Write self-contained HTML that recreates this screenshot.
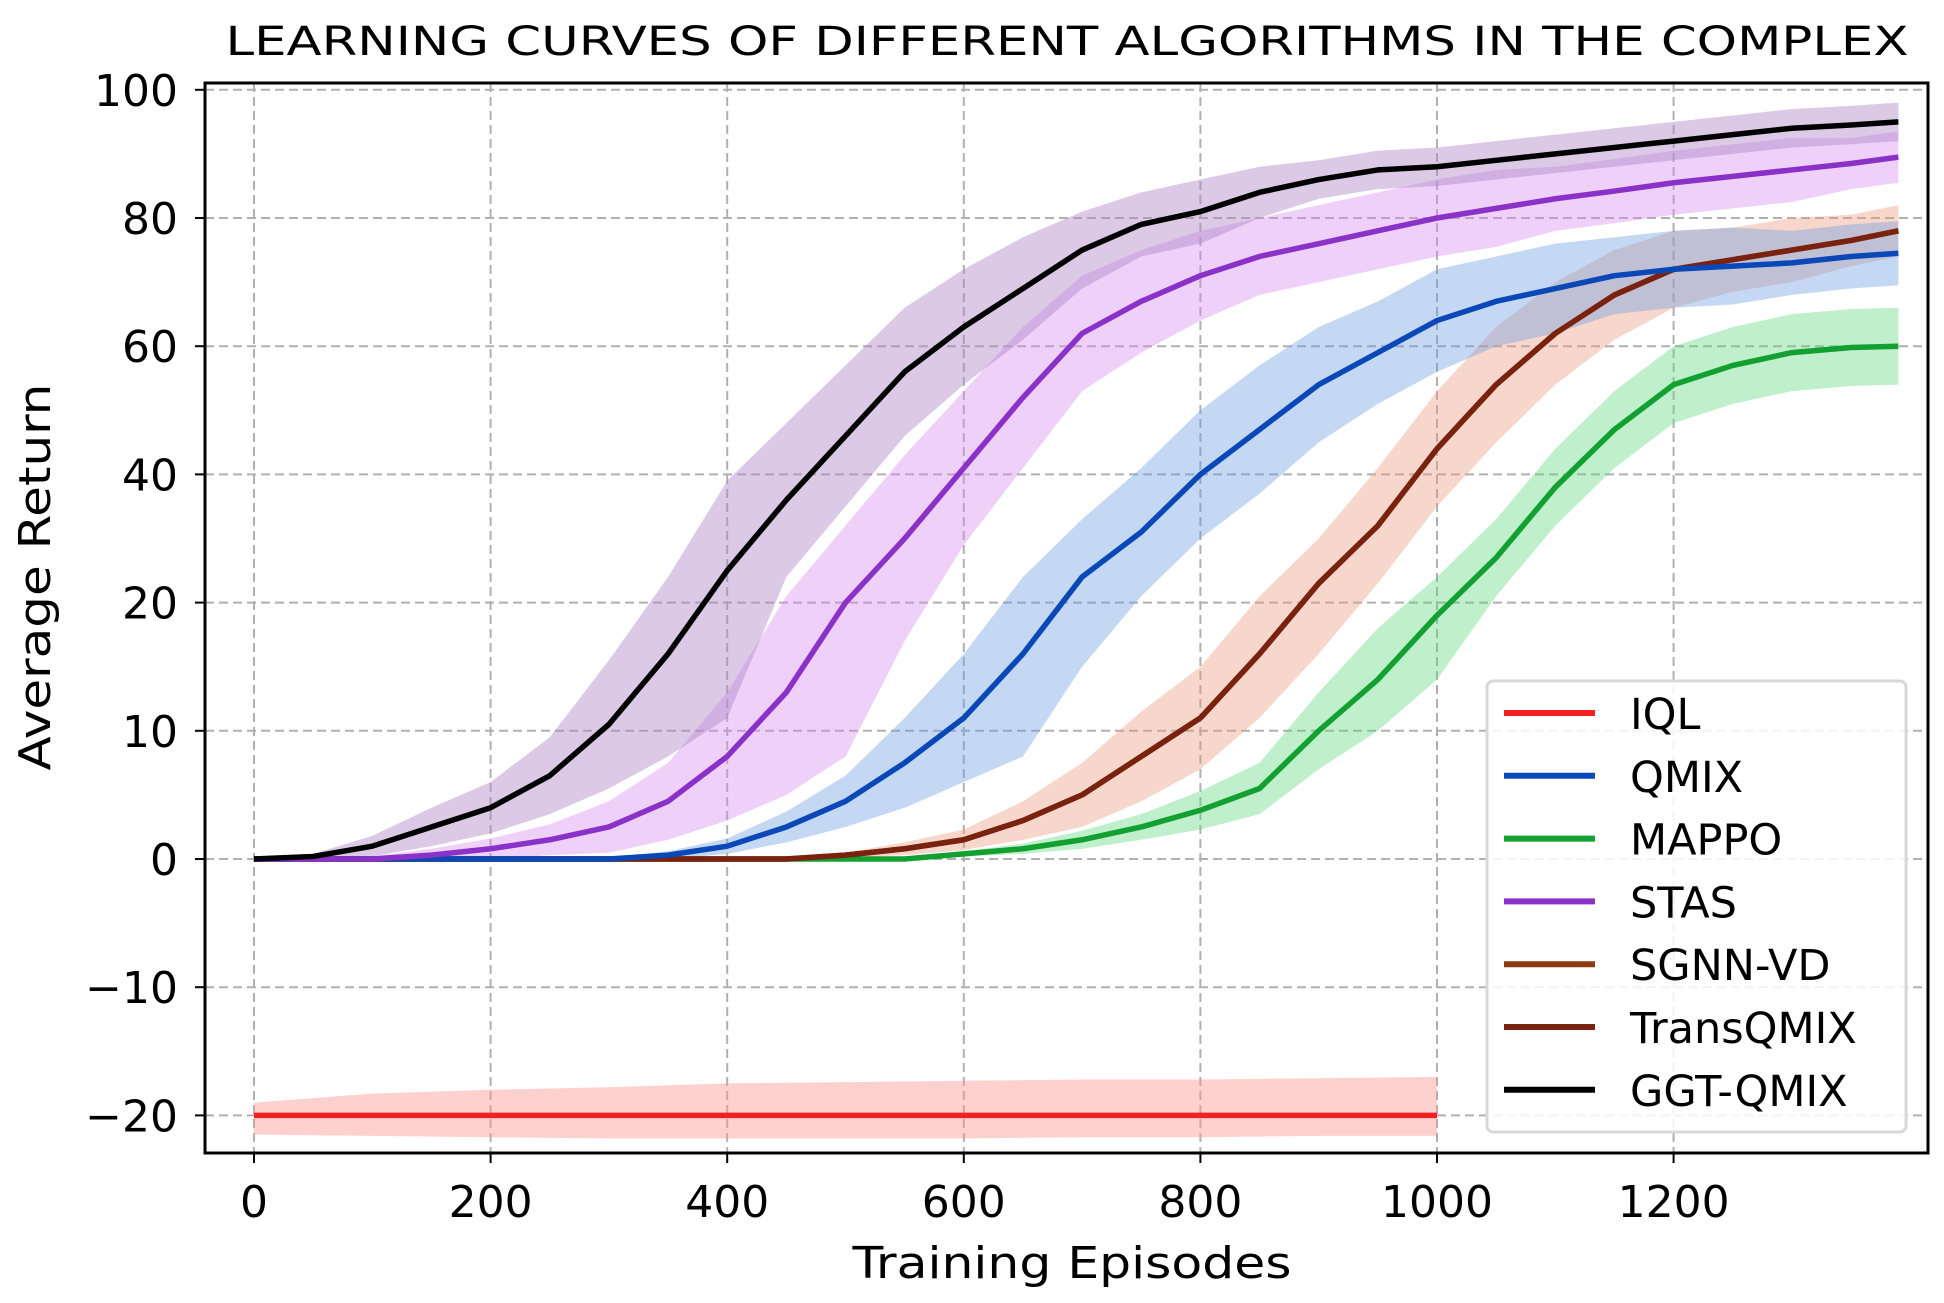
<!DOCTYPE html>
<html><head><meta charset="utf-8">
<style>
html,body{margin:0;padding:0;background:#fff;}
svg{display:block;font-family:"DejaVu Sans","Liberation Sans",sans-serif;}
</style></head>
<body>
<svg id="chart" width="1944" height="1303" viewBox="0 0 1944 1303" xmlns="http://www.w3.org/2000/svg">
<rect x="0" y="0" width="1944" height="1303" fill="#fff"/>
<text x="1067" y="55" text-anchor="middle" font-size="40" textLength="1683" lengthAdjust="spacingAndGlyphs">LEARNING CURVES OF DIFFERENT ALGORITHMS IN THE COMPLEX</text>
<g id="grid"></g>
<g id="bands"></g>
<g id="lines"></g>
<rect x="205" y="83" width="1723" height="1070" fill="none" stroke="#000" stroke-width="3"/>
<g id="ticks"></g>
<text x="1072" y="1278" text-anchor="middle" font-size="44" textLength="439" lengthAdjust="spacingAndGlyphs">Training Episodes</text>
<text transform="translate(50,577) rotate(-90)" text-anchor="middle" font-size="44" textLength="387" lengthAdjust="spacingAndGlyphs">Average Return</text>
<g id="legend"></g>
</svg>
<script>
const xs = [0,50,100,150,200,250,300,350,400,450,500,550,600,650,700,750,800,850,900,950,1000,1050,1100,1150,1200,1250,1300,1350,1390];
const ggt = [0,0.2,1,2.5,4,6.5,10.5,16,25,36,46,56,63,69,75,79,81,84,86,87.5,88,89,90,91,92,93,94,94.5,95];
const ggtSpread = [0,0.2,0.8,1.5,2,3,5,8,14,12,11,10,9,8,6,5,5,4,3,3,3,3,3,3,3,3,3,3,3];
const stas = [0,0,0,0.3,0.8,1.5,2.5,4.5,8,13,20,30,41,52,62,67,71,74,76,78,80,81.5,83,84.2,85.5,86.5,87.5,88.5,89.5];
const stasSpread = [0,0,0.2,0.5,0.8,1.2,2,3,5,8,12,13,12,11,9,8,7,6,6,6,6,6,5,5,5,5,5,4,4];
const qmix = [0,0,0,0,0,0,0,0.3,1,2.5,4.5,7.5,11,16,24,31,40,47,54,59,64,67,69,71,72,72.5,73,74,74.5];
const qmixSpread = [0,0,0,0,0,0,0.1,0.3,0.6,1.2,2,3.5,5,8,9,10,10,10,9,8,8,7,7,6,6,6,5,5,5];
const trans = [0,0,0,0,0,0,0,0,0,0,0.3,0.8,1.5,3,5,8,11,16,23,32,44,54,62,68,72,73.5,75,76.5,78];
const transSpread = [0,0,0,0,0,0,0,0,0,0,0.2,0.5,0.8,1.5,2.5,3.5,4,5,7,9,9,9,8,7,6,5,5,4,4];
const sgnn = [0,0,0,0,0,0,0,0,0,0,0.3,0.8,1.5,3,5,8,11,16,23,32,44,54,62,68,72,73.5,75,76.5,78];
const mappo = [0,0,0,0,0,0,0,0,0,0,0,0,0.4,0.8,1.5,2.5,3.8,5.5,10,14,19,27,38,47,54,57,59,59.8,60];
const mappoSpread = [0,0,0,0,0,0,0,0,0,0,0,0,0.2,0.4,0.7,1,1.5,2,3,4,5,6,6,6,6,6,6,6,6];
const iqlX = [0,100,200,300,400,500,600,700,800,900,1000];
const iql = [-20,-20,-20,-20,-20,-20,-20,-20,-20,-20,-20];
const iqlLo = [-21.5,-21.6,-21.7,-21.8,-21.8,-21.8,-21.8,-21.7,-21.7,-21.6,-21.6];
const iqlHi = [-19,-18.3,-18,-17.8,-17.5,-17.4,-17.3,-17.2,-17.2,-17.1,-17];
const xTicks = [0,200,400,600,800,1000,1200];
const yTicks = [100,80,60,40,20,10,0,-10,-20];
const yTickLabels = ["100","80","60","40","20","10","0","\u221210","\u221220"];
const legendNames = ["IQL","QMIX","MAPPO","STAS","SGNN-VD","TransQMIX","GGT-QMIX"];

const NS="http://www.w3.org/2000/svg";
const X0=254, XPER=1.183, Y0=859, T=128.2;
function xScale(v){return X0+v*XPER;}
function yScale(v){ if(v>=20) return Y0-2*T-(v-20)/20*T; return Y0-v/10*T; }
function mk(tag,attrs,parent){const e=document.createElementNS(NS,tag);for(const k in attrs)e.setAttribute(k,attrs[k]);parent.appendChild(e);return e;}

const grid=document.getElementById('grid');
xTicks.forEach(t=>{
  const l=mk('line',{x1:xScale(t),x2:xScale(t),y1:83,y2:1153,stroke:'#b0b0b0','stroke-width':2,'stroke-dasharray':'9,5'},grid);
  
  
});
yTicks.forEach(t=>{
  const l=mk('line',{x1:205,x2:1928,y1:yScale(t),y2:yScale(t),stroke:'#b0b0b0','stroke-width':2,'stroke-dasharray':'9,5'},grid);
  
  
});
const ticks=document.getElementById('ticks');
xTicks.forEach(t=>{
  mk('line',{x1:xScale(t),x2:xScale(t),y1:1153,y2:1163,stroke:'#000','stroke-width':2},ticks);
  const tx=mk('text',{x:xScale(t),y:1217,'text-anchor':'middle','font-size':44},ticks);
  tx.textContent=String(t);
  
  
});
yTicks.forEach((t,i)=>{
  mk('line',{x1:195,x2:205,y1:yScale(t),y2:yScale(t),stroke:'#000','stroke-width':2},ticks);
  const tx=mk('text',{x:178,y:yScale(t)+16,'text-anchor':'end','font-size':44},ticks);
  tx.textContent=yTickLabels[i];
  
  
});

const bands=document.getElementById('bands'), lines=document.getElementById('lines');
function band(xArr,lo,hi,fill,op,name){
  let d='M'+xArr.map((x,i)=>xScale(x)+','+yScale(hi[i])).join('L');
  d+='L'+xArr.slice().reverse().map((x,j)=>{const i=xArr.length-1-j;return xScale(x)+','+yScale(lo[i]);}).join('L')+'Z';
  const p=mk('path',{d:d,fill:fill,'fill-opacity':op,stroke:'none'},bands);
  
  
}
function line(xArr,vals,color,name){
  const pts=xArr.map((x,i)=>xScale(x)+','+yScale(vals[i])).join(' ');
  const p=mk('polyline',{points:pts,fill:'none',stroke:color,'stroke-width':5.5,'stroke-linejoin':'round'},lines);
  
  
}
function spreadBand(vals,sp,fill,op,name){
  band(xs,vals.map((v,i)=>v-sp[i]),vals.map((v,i)=>v+sp[i]),fill,op,name);
}
band(iqlX,iqlLo,iqlHi,'#ff9a92',0.45,'iql-band');
spreadBand(mappo,mappoSpread,'#5fd67e',0.4,'mappo-band');
spreadBand(trans,transSpread,'#ec9a7c',0.4,'transqmix-band');
spreadBand(qmix,qmixSpread,'#6f9ee0',0.4,'qmix-band');
spreadBand(stas,stasSpread,'#d88af0',0.4,'stas-band');
spreadBand(ggt,ggtSpread,'#b088c8',0.45,'ggt-qmix-band');
line(iqlX,iql,'#f22020','iql-line');
line(xs,mappo,'#12a030','mappo-line');
line(xs,sgnn,'#8b3a12','sgnn-vd-line');
line(xs,trans,'#7a2210','transqmix-line');
line(xs,qmix,'#0a48b8','qmix-line');
line(xs,stas,'#8a32c8','stas-line');
line(xs,ggt,'#000000','ggt-qmix-line');

const legend=document.getElementById('legend');
mk('rect',{x:1487,y:681,width:419,height:451,rx:6,fill:'#fff','fill-opacity':0.85,stroke:'#d8d8d8','stroke-width':3},legend);
const legendColors=['#f22020','#0a48b8','#12a030','#8a32c8','#8b3a12','#7a2210','#000000'];
legendNames.forEach((n,i)=>{
  const y=713+i*62.8;
  const g=mk('g',{},legend);
  
  
  mk('line',{x1:1504,x2:1595,y1:y,y2:y,stroke:legendColors[i],'stroke-width':6},g);
  const t=mk('text',{x:1630,y:y+16,'font-size':43},g);
  t.textContent=n;
});
</script>
</body></html>
